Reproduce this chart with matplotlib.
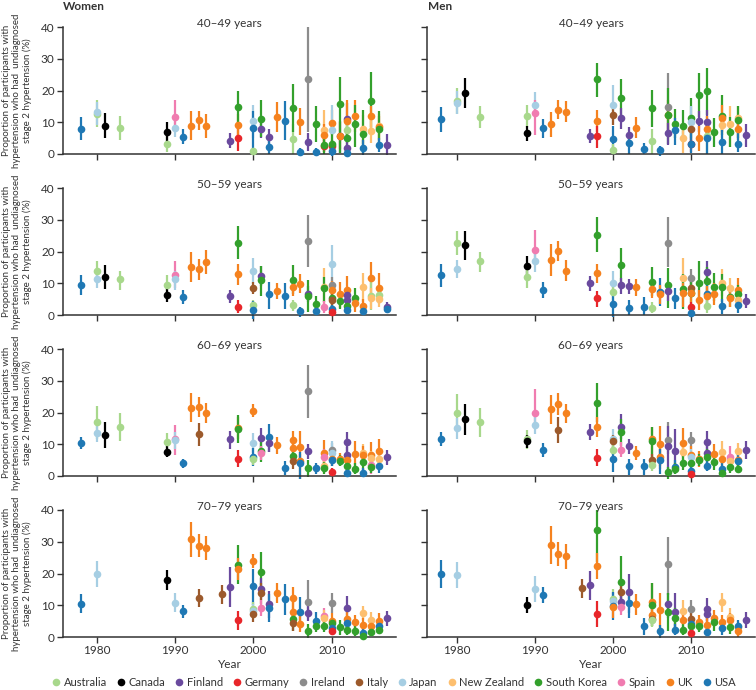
import matplotlib
matplotlib.use("Agg")
import matplotlib.pyplot as plt
from matplotlib.lines import Line2D

plt.rcParams['font.family'] = ['Lato', 'DejaVu Sans']

# country codes, legend names and colours
codes = ['AU', 'CA', 'FI', 'DE', 'IE', 'IT', 'JP', 'NZ', 'KR', 'ES', 'UK', 'US']
names = ['Australia', 'Canada', 'Finland', 'Germany', 'Ireland', 'Italy',
         'Japan', 'New Zealand', 'South Korea', 'Spain', 'UK', 'USA']
colors = {'AU': '#a8d88c', 'CA': '#000000', 'FI': '#6a4a9e', 'DE': '#e8262a',
          'IE': '#8c8c8c', 'IT': '#9c5a2c', 'JP': '#a6cee3', 'NZ': '#fdbf6f',
          'KR': '#33a02c', 'ES': '#f07cb0', 'UK': '#f5821f', 'US': '#1f78b4'}

ages = ['40\u201349 years', '50\u201359 years', '60\u201369 years', '70\u201379 years']

# (country, survey year, %, lower CI, upper CI)
women_40 = [
    ('US', 1978, 8.0, 4.3, 11.7), ('AU', 1980, 12.7, 8.5, 17.0), ('JP', 1980, 13.2, 9.0, 16.5),
    ('CA', 1981, 8.9, 5.0, 13.0), ('AU', 1983, 8.2, 4.5, 12.0), ('AU', 1989, 3.0, 0.5, 6.0),
    ('CA', 1989, 6.8, 4.0, 10.0), ('JP', 1990, 8.3, 5.5, 12.0), ('ES', 1990, 11.7, 7.0, 17.0),
    ('US', 1991, 5.4, 3.0, 8.0), ('UK', 1992, 8.9, 4.5, 13.5), ('UK', 1993, 10.6, 7.5, 13.5),
    ('UK', 1994, 8.7, 5.0, 12.5), ('FI', 1997, 4.1, 2.0, 6.5), ('DE', 1998, 4.9, 1.0, 8.5),
    ('UK', 1998, 9.2, 5.5, 12.5), ('KR', 1998, 14.8, 9.5, 20.0), ('AU', 2000, 0.9, 0.0, 2.0),
    ('JP', 2000, 10.4, 5.0, 15.5), ('US', 2000, 8.3, 0.8, 13.6), ('FI', 2001, 7.9, 5.0, 11.0),
    ('KR', 2001, 11.0, 5.5, 17.0), ('FI', 2002, 5.2, 2.6, 7.9), ('US', 2002, 2.3, 0.0, 4.6),
    ('UK', 2003, 11.7, 7.0, 16.5), ('US', 2004, 10.5, 4.4, 16.8), ('AU', 2005, 4.6, 0.0, 9.4),
    ('KR', 2005, 14.6, 7.0, 22.0), ('UK', 2006, 10.2, 6.0, 14.4), ('US', 2006, 0.7, -0.5, 2.0),
    ('IE', 2007, 23.5, 7.0, 40.0), ('FI', 2007, 3.9, 1.0, 6.5), ('KR', 2008, 9.6, 3.9, 15.0),
    ('US', 2008, 0.7, -0.3, 2.0), ('NZ', 2009, 7.6, 0.5, 14.0), ('UK', 2009, 5.9, 2.5, 9.5),
    ('DE', 2009, 2.6, 0.5, 5.0), ('KR', 2009, 2.9, 0.0, 6.0), ('UK', 2010, 9.9, 6.0, 13.9),
    ('JP', 2010, 7.6, 0.2, 15.5), ('DE', 2010, 2.5, 0.5, 4.5), ('KR', 2010, 3.1, 0.0, 7.0),
    ('US', 2010, 0.9, -0.5, 2.5), ('FI', 2011, 5.6, 0.2, 10.5), ('UK', 2011, 5.6, 1.5, 10.0),
    ('KR', 2011, 15.7, 0.2, 24.4), ('FI', 2012, 11.0, 6.0, 16.0), ('UK', 2012, 10.4, 5.0, 17.0),
    ('AU', 2012, 7.7, 4.0, 11.5), ('KR', 2012, 4.9, 1.5, 8.5), ('FI', 2012, 2.0, 0.0, 4.0),
    ('US', 2012, 0.4, -0.5, 1.5), ('UK', 2013, 11.9, 6.8, 17.0), ('KR', 2013, 9.6, 2.3, 15.3),
    ('NZ', 2014, 7.8, 3.3, 12.3), ('KR', 2014, 6.3, 0.2, 13.8), ('US', 2014, 2.0, -0.3, 4.4),
    ('KR', 2015, 16.6, 6.5, 25.8), ('UK', 2015, 11.9, 8.5, 15.2), ('NZ', 2015, 7.1, 3.4, 10.7),
    ('NZ', 2016, 8.8, 5.0, 12.5), ('UK', 2016, 8.4, 4.5, 12.0), ('KR', 2016, 7.8, 3.0, 13.5),
    ('US', 2016, 2.8, 0.5, 5.0), ('FI', 2017, 2.8, -0.3, 6.2),
]
men_40 = [
    ('US', 1978, 10.9, 7.0, 14.7), ('AU', 1980, 16.6, 12.5, 20.8), ('JP', 1980, 16.1, 12.5, 20.0),
    ('CA', 1981, 19.1, 14.4, 23.8), ('AU', 1983, 11.5, 8.2, 15.0), ('AU', 1989, 12.1, 8.5, 15.5),
    ('CA', 1989, 6.6, 4.2, 8.8), ('JP', 1990, 15.5, 11.5, 19.5), ('ES', 1990, 13.0, 6.0, 17.0),
    ('US', 1991, 8.2, 5.0, 10.9), ('UK', 1992, 9.4, 5.5, 13.3), ('UK', 1993, 14.0, 11.0, 17.0),
    ('UK', 1994, 13.3, 10.0, 16.6), ('FI', 1997, 5.8, 3.6, 8.0), ('KR', 1998, 23.5, 18.0, 28.8),
    ('UK', 1998, 10.5, 7.0, 13.9), ('DE', 1998, 5.7, 1.8, 8.8), ('JP', 2000, 15.5, 9.0, 21.8),
    ('IT', 2000, 12.2, 9.0, 15.0), ('US', 2000, 4.6, 0.0, 8.8), ('AU', 2000, 1.4, 0.0, 3.0),
    ('KR', 2001, 17.7, 11.7, 23.5), ('FI', 2001, 11.4, 8.0, 14.5), ('FI', 2002, 6.0, 3.6, 8.4),
    ('US', 2002, 3.4, 0.0, 6.0), ('UK', 2003, 8.3, 5.0, 11.6), ('US', 2004, 1.7, 0.0, 3.4),
    ('KR', 2005, 14.5, 8.6, 20.3), ('AU', 2005, 4.0, 0.0, 8.0), ('US', 2006, 1.2, -0.5, 2.6),
    ('IE', 2007, 14.7, 6.5, 25.4), ('UK', 2007, 12.4, 7.0, 17.0), ('KR', 2007, 12.3, 3.0, 20.8),
    ('FI', 2007, 6.5, 2.8, 9.8), ('KR', 2008, 9.6, 5.0, 14.3), ('US', 2008, 7.7, 2.8, 11.3),
    ('KR', 2009, 8.9, 3.9, 13.9), ('NZ', 2009, 5.1, 0.2, 9.8), ('KR', 2010, 11.3, 5.0, 17.5),
    ('JP', 2010, 10.2, 5.0, 15.0), ('IT', 2010, 7.8, 4.0, 11.0), ('DE', 2010, 3.0, 0.5, 5.0),
    ('US', 2010, 3.1, 0.2, 6.5), ('KR', 2011, 18.6, 11.7, 25.4), ('FI', 2011, 10.4, 7.0, 13.6),
    ('UK', 2011, 5.0, 0.8, 8.7), ('KR', 2012, 19.7, 12.3, 27.1), ('FI', 2012, 10.1, 6.5, 13.8),
    ('UK', 2012, 8.0, 4.0, 12.0), ('AU', 2012, 5.8, 0.0, 11.0), ('US', 2012, 4.9, 0.0, 8.6),
    ('KR', 2013, 6.8, 2.3, 11.3), ('KR', 2014, 12.1, 6.0, 18.5), ('UK', 2014, 11.4, 7.0, 15.5),
    ('NZ', 2014, 9.0, 5.0, 13.0), ('US', 2014, 3.7, 0.0, 7.6), ('NZ', 2015, 9.3, 2.3, 15.0),
    ('KR', 2015, 7.0, 2.3, 11.5), ('NZ', 2016, 11.2, 7.6, 15.0), ('KR', 2016, 10.8, 5.0, 15.0),
    ('UK', 2016, 7.8, 4.4, 11.6), ('US', 2016, 3.3, 0.5, 6.5), ('FI', 2017, 6.0, 2.3, 9.6),
]
women_50 = [
    ('US', 1978, 9.5, 6.3, 12.6), ('AU', 1980, 13.9, 10.9, 17.0), ('JP', 1980, 11.3, 8.6, 14.0),
    ('CA', 1981, 12.1, 8.1, 15.9), ('AU', 1983, 11.2, 8.0, 14.0), ('AU', 1989, 9.4, 6.0, 12.7),
    ('CA', 1989, 6.4, 4.2, 8.4), ('ES', 1990, 12.7, 8.5, 17.0), ('JP', 1990, 11.4, 8.0, 14.0),
    ('US', 1991, 5.7, 3.4, 8.0), ('UK', 1992, 15.2, 10.5, 19.9), ('UK', 1993, 14.5, 11.0, 17.5),
    ('UK', 1994, 16.6, 12.8, 20.4), ('FI', 1997, 6.0, 3.9, 8.0), ('KR', 1998, 22.7, 17.5, 27.9),
    ('UK', 1998, 12.9, 9.5, 16.0), ('DE', 1998, 2.6, 0.7, 4.6), ('JP', 2000, 14.0, 9.7, 18.0),
    ('IT', 2000, 8.6, 6.5, 10.5), ('AU', 2000, 3.1, 1.5, 4.6), ('US', 2000, 1.7, -1.3, 4.5),
    ('FI', 2001, 12.2, 9.0, 15.3), ('KR', 2001, 10.9, 6.0, 15.5), ('US', 2002, 6.5, 1.8, 10.5),
    ('UK', 2003, 7.5, 5.0, 10.0), ('US', 2004, 5.9, 1.8, 10.1), ('KR', 2005, 11.1, 6.5, 15.7),
    ('UK', 2005, 8.8, 6.0, 11.0), ('AU', 2005, 3.0, 1.3, 4.8), ('UK', 2006, 9.9, 6.9, 12.8),
    ('US', 2006, 1.2, -0.5, 2.5), ('IE', 2007, 23.2, 15.0, 31.4), ('FI', 2007, 6.5, 4.0, 9.0),
    ('KR', 2007, 6.0, 0.8, 11.0), ('KR', 2008, 3.4, 0.8, 5.9), ('US', 2008, 1.3, 0.0, 2.5),
    ('NZ', 2009, 8.8, 1.3, 14.7), ('KR', 2009, 8.4, 4.0, 12.0), ('ES', 2009, 2.5, 0.5, 4.5),
    ('JP', 2010, 16.2, 10.7, 22.1), ('IE', 2010, 9.4, 7.0, 12.0), ('UK', 2010, 7.9, 5.0, 10.7),
    ('KR', 2010, 5.5, 2.5, 8.0), ('IT', 2010, 4.6, 2.5, 6.5), ('US', 2010, 1.9, 0.3, 3.3),
    ('DE', 2010, 1.0, 0.0, 2.0), ('UK', 2011, 6.6, 2.3, 10.4), ('KR', 2011, 4.3, 1.8, 7.0),
    ('UK', 2012, 8.0, 3.8, 12.3), ('FI', 2012, 6.3, 3.5, 8.5), ('FI', 2012, 4.7, 2.5, 7.0),
    ('KR', 2012, 2.7, 0.5, 5.0), ('US', 2012, 1.7, 0.3, 3.0), ('KR', 2013, 5.4, 2.3, 8.5),
    ('UK', 2013, 3.9, 1.0, 6.0), ('NZ', 2014, 8.9, 4.0, 13.3), ('UK', 2014, 2.7, 0.5, 5.0),
    ('US', 2014, 1.3, 0.0, 2.7), ('UK', 2015, 11.5, 6.5, 16.6), ('AU', 2015, 5.9, 1.5, 11.0),
    ('NZ', 2015, 5.5, 2.0, 8.5), ('UK', 2016, 8.4, 3.8, 13.1), ('AU', 2016, 6.2, 3.5, 9.0),
    ('NZ', 2016, 5.1, 2.5, 7.5), ('FI', 2017, 2.4, 0.7, 4.2), ('US', 2017, 1.8, 0.5, 3.0),
]
men_50 = [
    ('US', 1978, 12.5, 8.9, 16.2), ('AU', 1980, 22.7, 19.0, 26.3), ('JP', 1980, 14.5, 11.7, 17.3),
    ('CA', 1981, 21.9, 17.2, 26.6), ('AU', 1983, 16.9, 13.6, 20.0), ('CA', 1989, 15.4, 12.3, 18.6),
    ('AU', 1989, 11.9, 8.5, 15.3), ('ES', 1990, 20.5, 16.8, 26.9), ('JP', 1990, 17.0, 13.6, 19.7),
    ('US', 1991, 8.0, 5.2, 10.5), ('UK', 1992, 17.4, 12.3, 22.5), ('UK', 1993, 20.1, 16.9, 23.2),
    ('UK', 1994, 14.0, 10.7, 17.3), ('FI', 1997, 10.0, 7.7, 12.3), ('KR', 1998, 25.3, 19.8, 31.0),
    ('UK', 1998, 13.3, 10.2, 16.1), ('DE', 1998, 5.2, 2.5, 7.7), ('JP', 2000, 10.2, 6.5, 13.8),
    ('AU', 2000, 7.1, 4.0, 10.0), ('US', 2000, 3.5, -0.5, 6.5), ('KR', 2001, 15.8, 10.2, 21.2),
    ('FI', 2001, 9.6, 6.5, 11.6), ('FI', 2002, 9.0, 6.5, 11.2), ('US', 2002, 2.1, 0.0, 4.6),
    ('UK', 2003, 8.7, 6.0, 11.2), ('US', 2004, 2.6, 0.0, 5.6), ('KR', 2005, 10.5, 6.0, 15.0),
    ('UK', 2005, 8.1, 5.5, 10.5), ('AU', 2005, 2.3, 0.5, 4.0), ('US', 2006, 7.2, 2.8, 11.6),
    ('UK', 2006, 6.5, 3.5, 9.5), ('IE', 2007, 22.6, 15.0, 30.8), ('KR', 2007, 9.3, 2.3, 14.9),
    ('FI', 2007, 7.6, 4.4, 10.5), ('US', 2008, 5.4, 1.8, 8.5), ('NZ', 2009, 11.7, 6.5, 18.0),
    ('KR', 2009, 8.1, 1.8, 12.8), ('UK', 2009, 6.9, 2.5, 10.0), ('IE', 2010, 11.5, 8.6, 14.4),
    ('IT', 2010, 8.6, 6.0, 10.5), ('KR', 2010, 7.0, 3.5, 10.5), ('UK', 2010, 7.0, 4.0, 9.5),
    ('DE', 2010, 2.5, 1.0, 4.0), ('US', 2010, 0.7, -0.5, 2.0), ('KR', 2011, 10.0, 3.3, 16.9),
    ('UK', 2011, 4.6, 1.5, 8.0), ('FI', 2012, 13.4, 9.5, 17.0), ('KR', 2012, 10.7, 6.5, 15.0),
    ('US', 2012, 6.5, 3.0, 9.5), ('UK', 2012, 6.0, 3.0, 9.0), ('AU', 2012, 2.8, 0.5, 5.0),
    ('KR', 2013, 8.8, 4.4, 13.3), ('UK', 2013, 6.7, 3.3, 10.2), ('NZ', 2014, 10.2, 6.0, 14.4),
    ('KR', 2014, 8.8, 4.0, 13.0), ('US', 2014, 2.7, 0.2, 5.0), ('NZ', 2015, 8.4, 5.0, 11.8),
    ('KR', 2015, 5.8, 2.5, 9.0), ('UK', 2015, 5.2, 2.5, 8.0), ('UK', 2016, 7.8, 3.4, 11.6),
    ('KR', 2016, 6.5, 3.5, 9.5), ('NZ', 2016, 4.7, 2.5, 7.0), ('US', 2016, 3.1, 0.5, 5.5),
    ('FI', 2017, 4.5, 2.1, 6.6),
]
women_60 = [
    ('US', 1978, 10.4, 8.4, 12.4), ('AU', 1980, 17.0, 11.7, 22.2), ('JP', 1980, 13.4, 10.7, 15.9),
    ('CA', 1981, 13.0, 8.9, 17.1), ('AU', 1983, 15.4, 11.0, 19.9), ('AU', 1989, 10.7, 8.4, 13.4),
    ('CA', 1989, 7.7, 6.0, 9.4), ('ES', 1990, 11.5, 6.5, 16.2), ('JP', 1990, 11.2, 8.4, 14.0),
    ('US', 1991, 4.1, 2.6, 5.5), ('UK', 1992, 21.5, 17.0, 26.0), ('UK', 1993, 21.6, 18.5, 24.9),
    ('IT', 1993, 13.1, 9.4, 16.8), ('UK', 1994, 19.9, 16.6, 23.0), ('FI', 1997, 11.5, 8.5, 14.3),
    ('UK', 1998, 15.2, 11.5, 18.5), ('KR', 1998, 14.8, 10.5, 19.1), ('DE', 1998, 5.5, 2.9, 8.1),
    ('UK', 2000, 20.6, 18.5, 22.6), ('JP', 2000, 10.5, 7.4, 13.6), ('US', 2000, 6.0, 3.1, 8.9),
    ('AU', 2000, 5.2, 3.5, 7.0), ('FI', 2001, 11.9, 8.5, 15.2), ('KR', 2001, 8.0, 4.4, 11.3),
    ('ES', 2001, 7.3, 5.0, 9.6), ('US', 2002, 12.2, 7.6, 16.5), ('FI', 2002, 10.3, 7.5, 12.5),
    ('UK', 2003, 9.7, 7.0, 12.4), ('US', 2004, 2.6, 0.2, 4.8), ('UK', 2005, 11.4, 8.5, 14.3),
    ('UK', 2005, 8.8, 6.0, 11.5), ('KR', 2005, 6.3, 3.5, 9.0), ('IT', 2005, 4.6, 2.2, 7.0),
    ('UK', 2006, 9.2, 3.9, 14.3), ('UK', 2006, 4.6, -0.8, 7.0), ('US', 2006, 4.0, -0.8, 7.5),
    ('IE', 2007, 26.7, 18.4, 35.1), ('FI', 2007, 8.0, 5.4, 10.2), ('KR', 2007, 2.4, -0.3, 4.9),
    ('US', 2008, 2.4, 0.7, 4.2), ('UK', 2009, 7.2, 2.8, 11.2), ('ES', 2009, 6.1, 4.0, 8.5),
    ('NZ', 2009, 3.2, 1.0, 5.5), ('KR', 2009, 2.5, 0.5, 4.5), ('IE', 2010, 8.1, 6.0, 10.3),
    ('JP', 2010, 7.3, 3.0, 11.0), ('UK', 2010, 5.2, 3.0, 7.5), ('US', 2010, 5.0, 3.0, 7.0),
    ('DE', 2010, 1.2, 0.2, 2.5), ('UK', 2011, 5.2, 3.3, 7.1), ('KR', 2011, 4.7, 3.0, 6.5),
    ('FI', 2012, 10.6, 7.5, 13.8), ('FI', 2012, 6.7, 4.5, 9.0), ('UK', 2012, 4.9, 2.5, 7.0),
    ('KR', 2012, 3.0, 1.0, 5.0), ('US', 2012, 1.0, 0.0, 2.0), ('UK', 2013, 6.9, 2.8, 11.0),
    ('KR', 2013, 2.1, 0.5, 4.0), ('NZ', 2014, 7.1, 4.0, 10.0), ('UK', 2014, 6.7, 3.5, 9.5),
    ('KR', 2014, 4.4, 2.0, 6.0), ('US', 2014, 1.1, 0.0, 2.5), ('UK', 2015, 6.7, 2.8, 10.7),
    ('NZ', 2015, 5.6, 3.0, 8.0), ('ES', 2015, 3.6, 0.5, 6.0), ('KR', 2015, 2.7, 1.0, 4.5),
    ('UK', 2016, 7.9, 4.4, 11.5), ('NZ', 2016, 5.4, 3.0, 8.0), ('US', 2016, 3.0, 1.0, 5.0),
    ('FI', 2017, 5.9, 3.6, 8.1),
]
men_60 = [
    ('US', 1978, 11.7, 9.6, 13.8), ('AU', 1980, 20.0, 15.8, 25.8), ('JP', 1980, 15.1, 11.8, 18.3),
    ('CA', 1981, 17.8, 12.8, 22.7), ('AU', 1983, 16.9, 12.2, 21.3), ('AU', 1989, 11.5, 8.5, 14.5),
    ('CA', 1989, 11.1, 8.8, 13.0), ('ES', 1990, 20.0, 14.8, 27.3), ('JP', 1990, 16.1, 13.2, 19.5),
    ('US', 1991, 8.2, 6.0, 10.5), ('UK', 1992, 21.0, 16.3, 25.6), ('UK', 1993, 22.8, 19.3, 26.1),
    ('IT', 1993, 14.6, 10.5, 18.5), ('UK', 1994, 19.7, 16.6, 22.8), ('FI', 1997, 13.8, 11.2, 16.3),
    ('KR', 1998, 23.1, 17.0, 29.2), ('UK', 1998, 15.4, 12.2, 18.5), ('DE', 1998, 5.8, 3.1, 8.4),
    ('JP', 2000, 11.5, 8.0, 14.8), ('IT', 2000, 10.9, 8.0, 13.0), ('AU', 2000, 8.3, 6.5, 10.0),
    ('US', 2000, 5.4, 1.3, 8.5), ('FI', 2001, 15.4, 11.5, 19.5), ('KR', 2001, 13.8, 9.6, 18.0),
    ('ES', 2001, 8.3, 5.9, 10.7), ('FI', 2002, 9.3, 7.0, 11.5), ('US', 2002, 3.0, 0.2, 5.4),
    ('UK', 2003, 7.2, 4.9, 9.6), ('US', 2004, 3.0, 0.2, 5.4), ('UK', 2005, 11.7, 5.0, 15.4),
    ('KR', 2005, 10.9, 6.0, 15.4), ('IT', 2005, 4.9, 2.5, 7.0), ('AU', 2005, 3.5, 1.5, 5.5),
    ('UK', 2006, 10.0, 2.3, 15.9), ('UK', 2006, 6.1, 3.0, 9.0), ('US', 2006, 4.9, 0.7, 8.6),
    ('IE', 2007, 11.2, 7.0, 16.9), ('FI', 2007, 9.6, 2.3, 15.7), ('KR', 2007, 1.2, -0.8, 2.8),
    ('FI', 2008, 8.0, 2.3, 14.8), ('US', 2008, 2.8, 0.5, 5.0), ('KR', 2008, 2.1, 0.5, 4.0),
    ('UK', 2009, 10.3, 6.0, 15.1), ('NZ', 2009, 7.5, 4.5, 10.5), ('KR', 2009, 4.2, 2.0, 6.5),
    ('IE', 2010, 11.2, 8.6, 13.9), ('UK', 2010, 6.7, 3.5, 9.5), ('JP', 2010, 6.1, 3.5, 8.5),
    ('KR', 2010, 4.1, 2.0, 6.5), ('US', 2010, 1.6, 0.0, 3.0), ('DE', 2010, 0.5, -0.3, 1.5),
    ('UK', 2011, 5.4, 2.8, 7.8), ('KR', 2011, 5.1, 3.0, 7.0), ('FI', 2012, 10.6, 6.9, 14.3),
    ('FI', 2012, 7.2, 5.0, 9.5), ('KR', 2012, 6.1, 3.5, 8.5), ('US', 2012, 3.3, 1.5, 5.0),
    ('UK', 2013, 7.0, 3.9, 10.2), ('KR', 2013, 4.4, 2.0, 7.0), ('NZ', 2014, 7.5, 4.0, 11.0),
    ('UK', 2014, 5.2, 3.0, 7.5), ('US', 2014, 2.3, 0.2, 4.5), ('KR', 2014, 0.9, -0.3, 2.5),
    ('ES', 2015, 6.1, 1.8, 9.5), ('NZ', 2015, 4.6, 2.5, 7.0), ('KR', 2015, 2.8, 1.0, 4.5),
    ('NZ', 2016, 8.0, 5.0, 10.5), ('UK', 2016, 4.9, 3.0, 7.0), ('US', 2016, 4.7, 2.5, 7.0),
    ('KR', 2016, 2.1, 0.8, 4.0), ('FI', 2017, 8.2, 5.5, 10.9),
]
women_70 = [
    ('US', 1978, 10.3, 7.5, 13.4), ('JP', 1980, 19.9, 15.9, 24.0), ('CA', 1989, 18.0, 14.8, 21.1),
    ('JP', 1990, 10.6, 7.8, 13.8), ('US', 1991, 8.1, 6.1, 10.1), ('UK', 1992, 30.9, 25.3, 36.3),
    ('UK', 1993, 28.8, 25.3, 32.4), ('IT', 1993, 12.3, 9.6, 15.1), ('UK', 1994, 28.1, 24.4, 31.8),
    ('IT', 1996, 13.5, 10.5, 16.5), ('FI', 1997, 15.9, 9.6, 22.2), ('KR', 1998, 22.8, 16.6, 29.0),
    ('UK', 1998, 21.4, 18.0, 25.0), ('DE', 1998, 5.2, 2.2, 8.2), ('UK', 2000, 23.9, 21.8, 26.2),
    ('US', 2000, 16.0, 10.2, 21.5), ('AU', 2000, 8.8, 6.5, 11.0), ('JP', 2000, 8.2, 6.0, 10.5),
    ('IT', 2000, 7.3, 4.8, 9.5), ('KR', 2001, 20.5, 14.3, 26.8), ('FI', 2001, 15.1, 11.5, 18.5),
    ('IT', 2001, 13.9, 10.5, 17.0), ('ES', 2001, 9.0, 6.5, 11.5), ('FI', 2002, 10.3, 6.1, 14.6),
    ('US', 2002, 9.2, 4.8, 13.5), ('UK', 2003, 13.9, 10.7, 17.0), ('US', 2004, 12.0, 7.0, 16.8),
    ('UK', 2005, 12.4, 8.8, 15.8), ('UK', 2005, 7.8, 4.5, 11.0), ('KR', 2005, 5.6, 2.0, 8.5),
    ('IT', 2005, 4.4, 2.0, 7.0), ('US', 2006, 7.9, 3.0, 12.5), ('UK', 2006, 4.2, 1.5, 7.5),
    ('IE', 2007, 11.0, 6.0, 17.8), ('FI', 2007, 7.6, 4.9, 10.3), ('KR', 2007, 1.9, -0.3, 4.0),
    ('US', 2008, 5.1, 2.3, 8.0), ('KR', 2008, 3.5, 1.5, 5.5), ('ES', 2009, 6.7, 4.5, 9.0),
    ('NZ', 2009, 5.9, 3.0, 8.5), ('KR', 2009, 3.6, 1.5, 5.5), ('IE', 2010, 10.7, 7.5, 13.8),
    ('UK', 2010, 5.1, 2.5, 7.5), ('KR', 2010, 4.3, 2.5, 6.0), ('US', 2010, 2.8, 1.0, 4.5),
    ('DE', 2010, 2.0, 0.5, 3.5), ('KR', 2011, 3.0, 0.7, 5.4), ('FI', 2012, 9.1, 6.0, 12.8),
    ('UK', 2012, 5.7, 3.0, 8.0), ('US', 2012, 4.3, 2.0, 6.5), ('KR', 2012, 2.2, 0.5, 4.0),
    ('UK', 2013, 4.7, 1.8, 7.0), ('KR', 2013, 1.8, 0.3, 3.5), ('NZ', 2014, 7.6, 5.5, 9.8),
    ('UK', 2014, 3.9, 2.0, 6.0), ('US', 2014, 1.3, 0.2, 2.5), ('KR', 2014, 0.2, -0.3, 1.0),
    ('NZ', 2015, 5.5, 2.8, 8.0), ('UK', 2015, 3.6, 1.5, 5.5), ('KR', 2015, 1.5, 0.2, 3.0),
    ('UK', 2016, 5.0, 2.5, 7.5), ('US', 2016, 3.4, 1.5, 5.5), ('KR', 2016, 2.3, 0.8, 4.0),
    ('FI', 2017, 6.0, 3.6, 8.1),
]
men_70 = [
    ('US', 1978, 19.8, 15.4, 24.3), ('JP', 1980, 19.5, 15.3, 23.7), ('CA', 1989, 10.0, 7.5, 12.5),
    ('JP', 1990, 15.2, 11.1, 19.2), ('US', 1991, 13.3, 10.7, 15.9), ('UK', 1992, 29.0, 23.1, 34.9),
    ('UK', 1993, 26.1, 22.3, 30.0), ('UK', 1994, 25.5, 21.5, 29.4), ('IT', 1996, 15.3, 12.3, 18.3),
    ('FI', 1997, 16.3, 11.7, 20.9), ('KR', 1998, 33.6, 23.5, 40.0), ('UK', 1998, 22.3, 18.3, 26.3),
    ('DE', 1998, 7.2, 3.2, 11.3), ('AU', 2000, 12.1, 9.5, 15.0), ('JP', 2000, 11.4, 9.0, 14.0),
    ('US', 2000, 9.7, 5.2, 14.1), ('UK', 2000, 9.4, 6.0, 12.0), ('KR', 2001, 17.3, 10.7, 25.4),
    ('IT', 2001, 14.3, 11.5, 17.0), ('FI', 2001, 11.1, 8.0, 14.0), ('ES', 2001, 9.4, 7.0, 11.5),
    ('FI', 2002, 14.3, 7.6, 19.8), ('US', 2002, 10.6, 6.0, 13.9), ('UK', 2003, 10.3, 7.0, 13.4),
    ('US', 2004, 3.5, 0.7, 6.0), ('UK', 2005, 10.9, 7.0, 17.0), ('KR', 2005, 10.0, 3.4, 17.0),
    ('UK', 2005, 7.0, 4.5, 9.5), ('IT', 2005, 5.8, 3.5, 8.0), ('AU', 2005, 5.2, 3.0, 7.5),
    ('UK', 2006, 8.4, 2.3, 13.9), ('US', 2006, 1.9, -0.3, 3.9), ('IE', 2007, 23.0, 13.3, 31.5),
    ('FI', 2007, 10.3, 6.0, 14.0), ('KR', 2007, 7.8, 1.8, 13.9), ('FI', 2008, 8.0, 2.8, 13.9),
    ('KR', 2008, 5.9, 3.0, 9.0), ('US', 2008, 2.2, 0.5, 4.0), ('NZ', 2009, 8.3, 4.4, 11.7),
    ('UK', 2009, 5.4, 2.5, 8.0), ('KR', 2009, 2.3, 0.5, 4.0), ('IE', 2010, 8.7, 6.0, 11.8),
    ('IT', 2010, 5.6, 3.5, 7.5), ('US', 2010, 4.2, 2.0, 6.5), ('KR', 2010, 3.6, 1.5, 5.5),
    ('DE', 2010, 1.2, 0.2, 2.5), ('UK', 2011, 4.6, 1.8, 7.0), ('KR', 2011, 3.5, 1.5, 5.5),
    ('FI', 2012, 8.9, 4.4, 12.3), ('FI', 2012, 7.2, 5.0, 9.5), ('UK', 2012, 3.7, 1.5, 6.0),
    ('US', 2012, 1.5, 0.2, 3.0), ('UK', 2013, 6.0, 3.4, 8.6), ('KR', 2013, 4.6, 2.0, 7.0),
    ('NZ', 2014, 10.9, 7.8, 14.0), ('UK', 2014, 4.7, 2.5, 7.0), ('US', 2014, 2.7, 0.5, 5.0),
    ('NZ', 2015, 6.4, 3.8, 9.0), ('UK', 2015, 5.2, 3.0, 7.5), ('KR', 2015, 3.1, 1.0, 5.5),
    ('NZ', 2016, 3.2, 1.0, 5.0), ('US', 2016, 3.4, 1.5, 5.5), ('UK', 2016, 2.0, 0.0, 4.0),
    ('FI', 2017, 5.2, 2.9, 8.0),
]

panels = [[women_40, men_40], [women_50, men_50], [women_60, men_60], [women_70, men_70]]

W, H = 756, 690
fig = plt.figure(figsize=(W / 100, H / 100), dpi=100)
ink = '#333333'

col_left = [63, 427]
col_right = [396, 755]
xlims = [(1975.7, 2018.2), (1976.15, 2018.2)]
row_top = [27, 188, 349, 510]
ph = 127

for r in range(4):
    for c in range(2):
        x0, x1 = col_left[c], col_right[c]
        ax = fig.add_axes([x0 / W, 1 - (row_top[r] + ph) / H, (x1 - x0) / W, ph / H])
        for code, yr, v, lo, hi in panels[r][c]:
            col = colors[code]
            ax.plot([yr, yr], [lo, hi], color=col, lw=1.6, solid_capstyle='butt', clip_on=False, zorder=2)
            ax.plot(yr, v, 'o', ms=5.5, color=col, mec='none', clip_on=False, zorder=3)
        ax.set_xlim(*xlims[c])
        ax.set_ylim(0, 40)
        ax.set_yticks([0, 10, 20, 30, 40])
        ax.set_xticks([1980, 1990, 2000, 2010])
        for s in ['top', 'right']:
            ax.spines[s].set_visible(False)
        for s in ['left', 'bottom']:
            ax.spines[s].set_color(ink)
            ax.spines[s].set_linewidth(1.1)
        ax.tick_params(colors=ink, labelsize=8.5, length=4, width=1, pad=2)
        if c == 1:
            ax.tick_params(labelleft=False)
        if r < 3:
            ax.tick_params(labelbottom=False)
        else:
            ax.set_xlabel('Year', fontsize=8.5, color=ink, labelpad=2)
        ax.text(0.5, 1.03, ages[r], transform=ax.transAxes, ha='center', va='center',
                fontsize=8.5, color=ink)
        if c == 0:
            yc = 1 - (row_top[r] + ph / 2) / H
            fig.text(17 / W, yc, 'Proportion of participants with\nhypertension who had  undiagnosed\n'
                     'stage 2 hypertension (%)', rotation=90, ha='center', va='center',
                     fontsize=7, color=ink, linespacing=1.2)

fig.text(63 / W, 1 - 6 / H, 'Women', fontsize=8.5, fontweight='bold', color=ink, va='center')
fig.text(428 / W, 1 - 6 / H, 'Men', fontsize=8.5, fontweight='bold', color=ink, va='center')

handles = [Line2D([], [], marker='o', ls='none', ms=5.5, color=colors[k], mec='none') for k in codes]
fig.legend(handles, names, loc='center', bbox_to_anchor=(0.52, 1 - 682 / H), ncol=12,
           frameon=False, fontsize=8, handletextpad=0.2, columnspacing=0.75, handlelength=1.0,
           labelcolor=ink)

fig.savefig('out.png', dpi=100)
